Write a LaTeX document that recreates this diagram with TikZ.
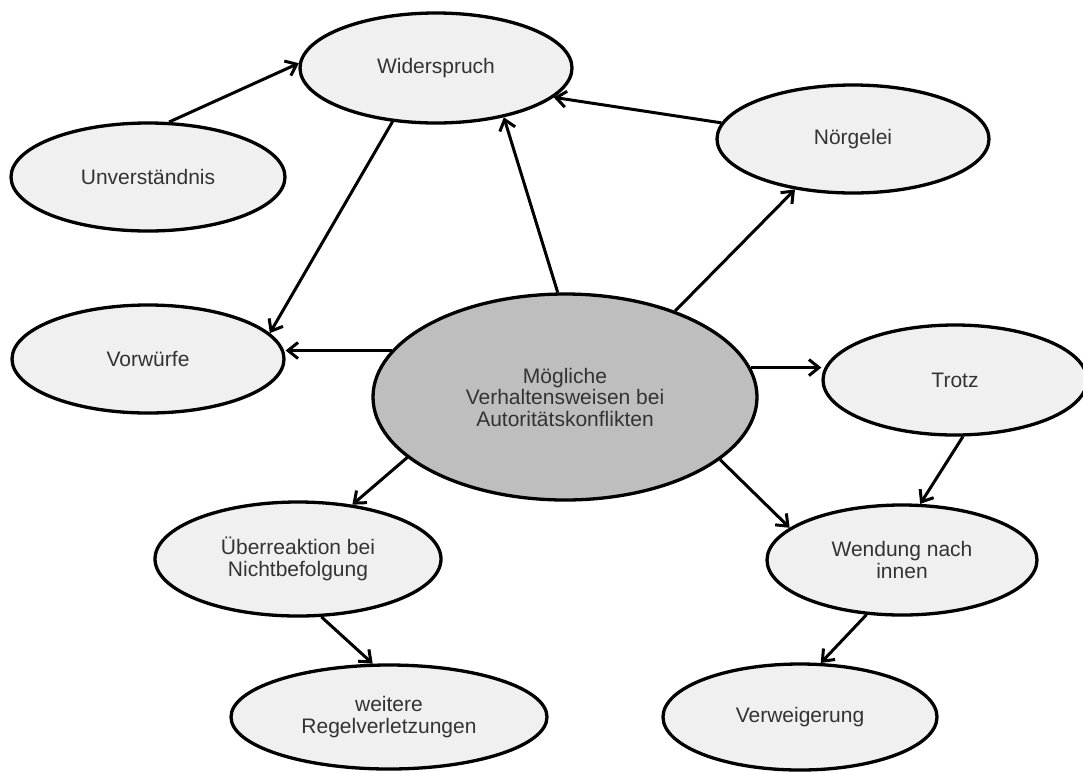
\documentclass[tikz,border=0pt]{standalone}
\usepackage{fontspec}
\setmainfont{Liberation Sans}
\usetikzlibrary{shapes.geometric,arrows.meta}
\definecolor{nodefill}{HTML}{F0F0F0}
\definecolor{centerfill}{HTML}{BEBEBE}
\definecolor{txt}{HTML}{333333}
\begin{document}
\begin{tikzpicture}[x=1pt,y=-1pt,
  bubble/.style={ellipse, draw=black, line width=3.3pt, fill=nodefill, inner sep=0pt,
    minimum width=272pt, minimum height=108pt, align=center, text=txt,
    font=\fontsize{21}{21.5}\selectfont},
  hub/.style={bubble, fill=centerfill, minimum width=384pt, minimum height=206pt},
  conn/.style={line width=3pt, -{Straight Barb[length=10pt,width=16pt,line width=3pt]}}]
\fill[white] (0,0) rectangle (1083,772);
\useasboundingbox (0,0) rectangle (1083,772);

\node[hub] (cen) at (565,397) {Mögliche\\Verhaltensweisen bei\\Autoritätskonflikten};
\node[bubble, minimum width=272pt, minimum height=110pt] (wid) at (436,68) {Widerspruch};
\node[bubble, minimum width=274pt] (unv) at (148,177) {Unverständnis};
\node[bubble] (vor) at (148,359) {Vorwürfe};
\node[bubble] (nor) at (853,139) {Nörgelei};
\node[bubble, minimum width=264pt, minimum height=110pt] (tro) at (955,380) {Trotz};
\node[bubble, minimum width=286pt, minimum height=114pt] (ueb) at (298,559) {Überreaktion bei\\Nichtbefolgung};
\node[bubble, minimum width=270pt, minimum height=110pt] (wen) at (902,560) {Wendung nach\\innen};
\node[bubble, minimum width=316pt, minimum height=104pt] (wei) at (389,717) {weitere\\Regelverletzungen};
\node[bubble, minimum width=274pt, minimum height=106pt] (ver) at (800,717) {Verweigerung};

\draw[conn] (unv.69) -- (wid.178);
\draw[conn] (wid.231) -- (vor.12);
\draw[conn] (cen.94) -- (wid.324);
\draw[conn] (nor.173) -- (wid.346);
\draw[conn] (cen.38) -- (nor.221);
\draw[conn] (cen.165) -- (cen.165 -| vor.east);
\draw[conn] (cen.9) -- (cen.9 -| tro.west);
\draw[conn] (cen.201) -- (ueb.45);
\draw[conn] (cen.338) -- (wen.164);
\draw[conn] (tro.278) -- (wen.72);
\draw[conn] (ueb.292) -- (wei.107);
\draw[conn] (wen.237) -- (ver.69);
\end{tikzpicture}
\end{document}
